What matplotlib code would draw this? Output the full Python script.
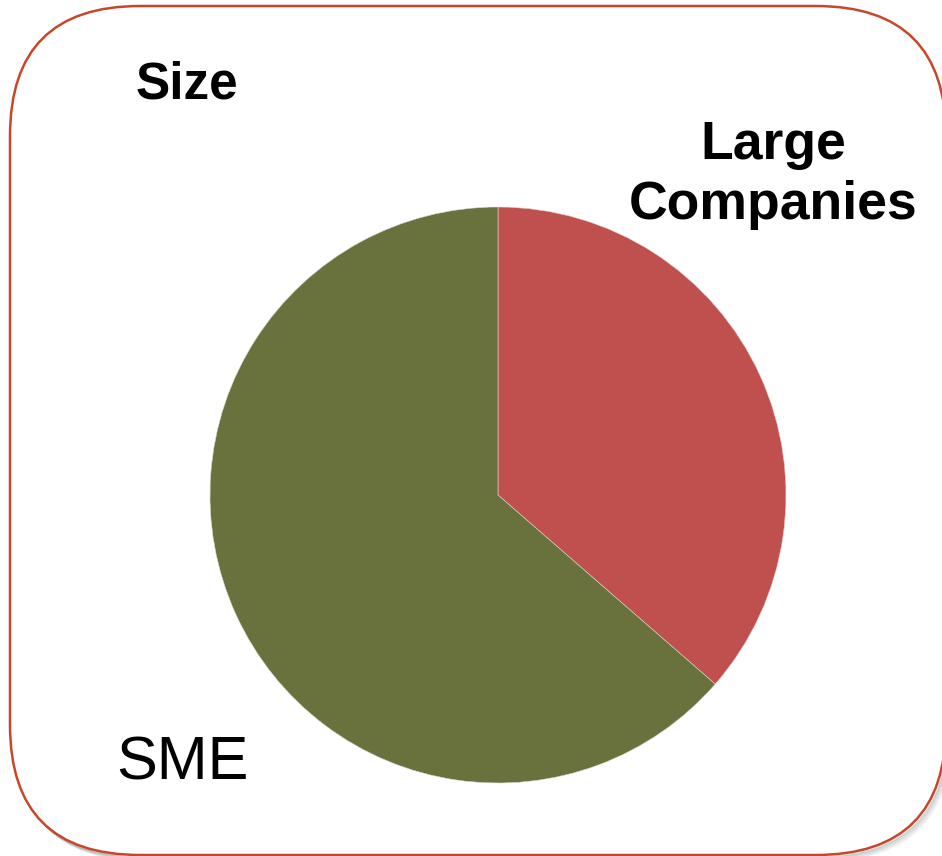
import matplotlib
matplotlib.use("Agg")
import matplotlib.pyplot as plt
from matplotlib.patches import FancyBboxPatch

# Company size split (share of total, %)
LABELS = ["Large\nCompanies", "SME"]
SHARES = [36.4, 63.6]
COLORS = ["#C0504D", "#69723D"]

W, H = 942, 856
plt.rcParams["font.family"] = ["Liberation Sans", "DejaVu Sans"]

fig = plt.figure(figsize=(W / 100, H / 100), dpi=100)
ax = fig.add_axes([0, 0, 1, 1])

# rounded frame with a soft drop shadow on the lower right
box = dict(xy=(10, 1), width=936, height=849)
style = "round,pad=0,rounding_size=130"
for off, a in [(6, 0.05), (5, 0.08), (4, 0.12), (3, 0.16), (2, 0.2)]:
    ax.add_patch(FancyBboxPatch((box["xy"][0] + off, box["xy"][1] - off),
                                box["width"], box["height"], boxstyle=style,
                                facecolor="none", edgecolor="#555555",
                                linewidth=1.5, alpha=a, zorder=1))
ax.add_patch(FancyBboxPatch(box["xy"], box["width"], box["height"],
                            boxstyle=style, facecolor="white",
                            edgecolor="#C8472A", linewidth=1.8, zorder=2))

ax.pie(SHARES, colors=COLORS, startangle=90, counterclock=False,
       center=(498, H - 495), radius=288,
       wedgeprops=dict(edgecolor="#D9D4C8", linewidth=0.4, zorder=3))

# pie() resets the limits, so fix the pixel frame afterwards
ax.set_xlim(0, W)
ax.set_ylim(0, H)
ax.set_aspect("equal")
ax.axis("off")

ax.text(187, H - 98, "Size", ha="center", va="baseline",
        fontsize=37, fontweight="bold", zorder=4)
ax.text(773, H - 219, LABELS[0], ha="center", va="baseline",
        multialignment="center", fontsize=38.5, fontweight="bold",
        linespacing=1.25, zorder=4)
ax.text(182, H - 780, LABELS[1], ha="center", va="baseline",
        fontsize=44, zorder=4)

fig.savefig("out.png", dpi=100)
